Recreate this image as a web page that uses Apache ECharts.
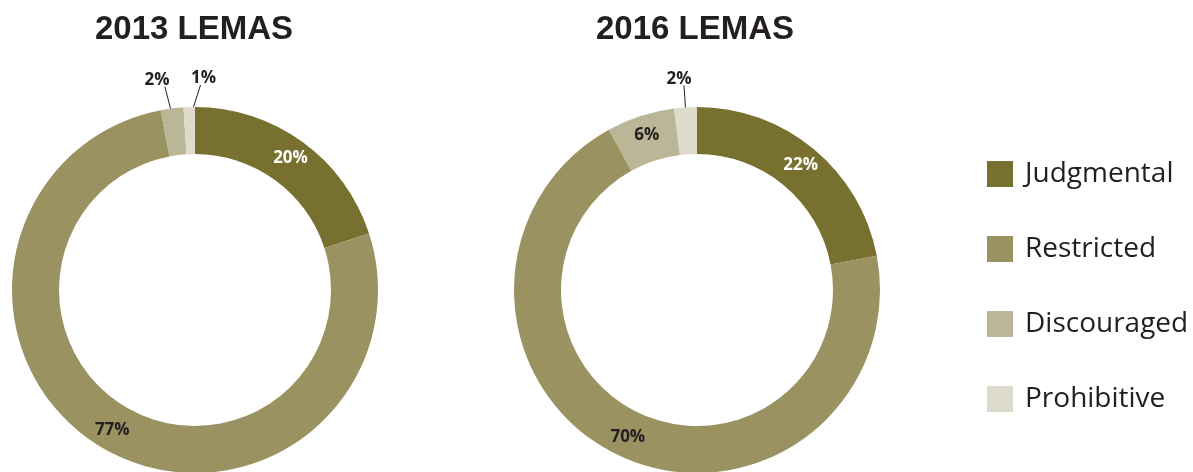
<!DOCTYPE html>
<html>
<head>
<meta charset="utf-8">
<script src="https://cdn.jsdelivr.net/npm/echarts@6/dist/echarts.min.js"></script>
<style>
html,body{margin:0;padding:0;background:#fff;}
#chart{width:1193px;height:472px;}
</style>
</head>
<body>
<div id="chart"></div>
<script>
var categories = ['Judgmental', 'Restricted', 'Discouraged', 'Prohibitive'];
var values2013 = [20, 77, 2, 1];
var values2016 = [22, 70, 6, 2];
var colors = ['#78702f', '#9a9260', '#bbb697', '#dddbcb'];

var chart = echarts.init(document.getElementById('chart'));

// labels: big slices inside, tiny ones outside with a short leader
function buildData(vals) {
    return vals.map(function (v, i) {
        var item = {
            name: categories[i],
            value: v,
            itemStyle: { color: colors[i] }
        };
        if (v < 5) {
            item.label = {
                position: 'outside',
                color: '#231f20'
            };
            item.labelLine = {
                show: true,
                length: 24,
                length2: 0,
                lineStyle: { color: '#231f20', width: 1 }
            };
        } else {
            item.label = {
                position: 'inside',
                color: i === 0 ? '#ffffff' : '#231f20'
            };
        }
        return item;
    });
}

// spread the two tiny 2013 labels apart
function pieSeries(name, center, vals, spread) {
    return {
        name: name,
        type: 'pie',
        center: center,
        radius: [136, 183],
        startAngle: 90,
        clockwise: true,
        avoidLabelOverlap: false,
        silent: true,
        label: {
            show: true,
            formatter: '{c}%',
            fontFamily: 'Open Sans',
            fontWeight: 'bold',
            fontSize: 17
        },
        labelLayout: function (params) {
            var i = params.dataIndex;
            if (vals[i] < 5) {
                var dx = 0;
                if (spread) dx = i === 2 ? -7 : 20;
                var out = { align: 'center', verticalAlign: 'bottom', dx: dx, dy: 4 };
                var pts = params.labelLinePoints;
                if (pts && pts.length >= 2) {
                    var p0 = pts[0], p1 = pts[1];
                    out.labelLinePoints = [
                        [p0[0] + (p0[0] - p1[0]) * 0.5, p0[1] + (p0[1] - p1[1]) * 0.5],
                        [p1[0] + dx * 0.6, p1[1] + 2]
                    ];
                }
                return out;
            }
            return {};
        },
        data: buildData(vals)
    };
}

var titleStyle = { fontFamily: 'Liberation Sans', fontWeight: 'bold', fontSize: 33, color: '#231f20' };

var option = {
    animation: false,
    title: [{
        text: '2013 LEMAS',
        left: 194,
        top: 13,
        padding: 0,
        textAlign: 'center',
        textStyle: titleStyle
    }, {
        text: '2016 LEMAS',
        left: 695,
        top: 13,
        padding: 0,
        textAlign: 'center',
        textStyle: titleStyle
    }],
    legend: {
        orient: 'vertical',
        left: 987,
        top: 160,
        padding: 0,
        itemWidth: 26,
        itemHeight: 26,
        itemGap: 47,
        icon: 'rect',
        selectedMode: false,
        data: categories,
        textStyle: { fontFamily: 'Open Sans', fontSize: 28, lineHeight: 26, color: '#231f20', padding: [0, 0, 0, 7] }
    },
    series: [
        pieSeries('2013', [195, 290], values2013, true),
        pieSeries('2016', [697, 290], values2016, false)
    ]
};
chart.setOption(option);
</script>
</body>
</html>
